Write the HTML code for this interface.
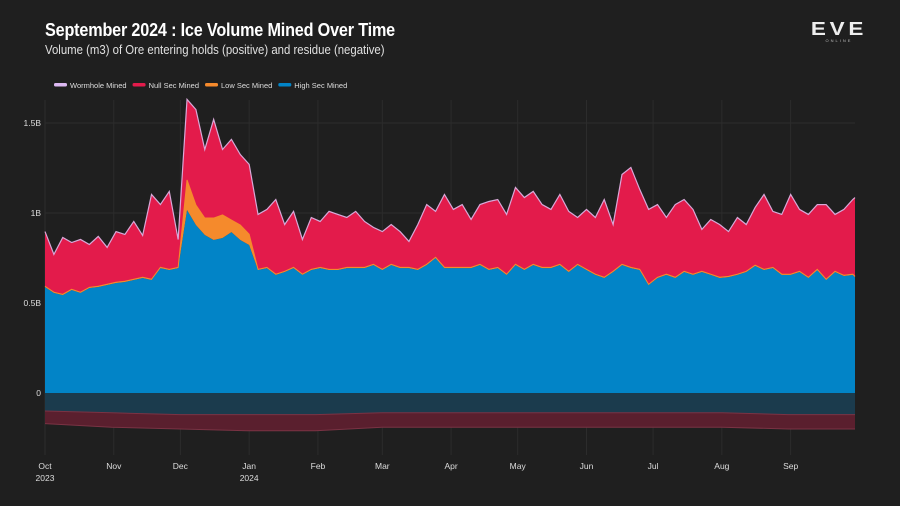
<!DOCTYPE html>
<html><head><meta charset="utf-8"><style>
html,body{margin:0;padding:0;background:#1f1f1f;}
body{width:900px;height:506px;overflow:hidden;position:relative;font-family:"Liberation Sans",sans-serif;color:#fff;}
#title{position:absolute;left:45px;top:20px;font-size:18px;font-weight:bold;letter-spacing:-0.2px;transform:scaleX(0.9);transform-origin:left top;white-space:nowrap;}
#subtitle{position:absolute;left:45px;top:43px;font-size:12.5px;color:#e0e0e0;transform:scaleX(0.91);transform-origin:left top;white-space:nowrap;}
#logo{position:absolute;left:809px;top:20px;width:60px;text-align:center;}
</style></head><body>
<div id="title">September 2024 : Ice Volume Mined Over Time</div>
<div id="subtitle">Volume (m3) of Ore entering holds (positive) and residue (negative)</div>
<div id="logo"><div style="font-size:18px;font-weight:bold;letter-spacing:3px;line-height:18px;color:#eee;transform:scaleX(1.25)">EVE</div><div style="font-size:4px;letter-spacing:2px;color:#bbb">ONLINE</div></div>
<svg id="chart" width="900" height="506" style="position:absolute;left:0;top:0"></svg>
<script>
const days=[0,4,8,12,16,20,24,28,32,36,40,44,48,52,56,60,64,68,72,76,80,84,88,92,96,100,104,108,112,116,120,124,128,132,136,140,144,148,152,156,160,164,168,172,176,180,184,188,192,196,200,204,208,212,216,220,224,228,232,236,240,244,248,252,256,260,264,268,272,276,280,284,288,292,296,300,304,308,312,316,320,324,328,332,336,340,344,348,352,356,360,364,365];
const totalTop=[0.894,0.767,0.861,0.833,0.85,0.822,0.867,0.806,0.894,0.878,0.95,0.872,1.10,1.044,1.117,0.85,1.628,1.572,1.35,1.517,1.35,1.406,1.322,1.267,0.989,1.017,1.072,0.933,1.006,0.85,0.972,0.95,1.006,0.989,0.972,1.006,0.95,0.917,0.894,0.933,0.894,0.839,0.933,1.044,1.006,1.10,1.017,1.044,0.961,1.044,1.061,1.072,0.989,1.139,1.083,1.117,1.044,1.017,1.10,1.006,0.972,1.017,0.972,1.072,0.933,1.211,1.25,1.128,1.017,1.044,0.972,1.044,1.072,1.017,0.906,0.961,0.933,0.894,0.972,0.933,1.028,1.10,1.006,0.989,1.10,1.017,0.989,1.044,1.044,0.989,1.017,1.072,1.083];
const highSec=[0.589,0.556,0.544,0.572,0.556,0.583,0.589,0.60,0.611,0.617,0.628,0.639,0.628,0.694,0.683,0.694,1.017,0.933,0.878,0.85,0.861,0.894,0.85,0.822,0.683,0.694,0.656,0.672,0.694,0.656,0.683,0.694,0.683,0.683,0.694,0.694,0.694,0.711,0.683,0.711,0.694,0.694,0.683,0.711,0.75,0.694,0.694,0.694,0.694,0.711,0.683,0.694,0.656,0.711,0.683,0.711,0.694,0.694,0.711,0.672,0.711,0.683,0.656,0.639,0.672,0.711,0.694,0.683,0.60,0.639,0.656,0.639,0.672,0.656,0.672,0.656,0.639,0.644,0.656,0.672,0.706,0.683,0.694,0.656,0.656,0.672,0.639,0.683,0.628,0.672,0.65,0.656,0.644];
const lowSecIdx=[16,17,18,19,20,21,22,23];
const lowSecVal=[0.167,0.111,0.094,0.122,0.128,0.067,0.083,0.06];
const negDays=[0,30,61,91,122,152,183,213,244,274,305,335,365];
const negHigh=[-0.10,-0.11,-0.12,-0.12,-0.12,-0.11,-0.11,-0.11,-0.11,-0.11,-0.11,-0.12,-0.12];
const negNull=[-0.07,-0.08,-0.08,-0.09,-0.09,-0.08,-0.08,-0.08,-0.08,-0.08,-0.08,-0.08,-0.08];
const yTicks=[0,0.5,1,1.5];
const yTickLabels=["0","0.5B","1B","1.5B"];
const monthDays=[0,31,61,92,123,152,183,213,244,274,305,336];
const monthLabels=["Oct","Nov","Dec","Jan","Feb","Mar","Apr","May","Jun","Jul","Aug","Sep"];
const yearLabels={0:"2023",3:"2024"};
const legendNames=["Wormhole Mined","Null Sec Mined","Low Sec Mined","High Sec Mined"];
const legendColors=["#dcb8f2","#e31b4b","#f58a2c","#0284c7"];

const NS="http://www.w3.org/2000/svg";
const svg=document.getElementById('chart');
const X=d=>45+d*(810/365);
const Y=v=>393-v*180;
function mk(t,a){const e=document.createElementNS(NS,t);for(const k in a)e.setAttribute(k,a[k]);svg.appendChild(e);return e;}
monthDays.forEach((d,i)=>{const l=mk('line',{x1:X(d),x2:X(d),y1:100,y2:455,stroke:'#2c2c2c','stroke-width':1});


const t=mk('text',{x:X(d),y:469,'text-anchor':'middle','font-size':8.5,fill:'#ddd'});t.textContent=monthLabels[i];


if(yearLabels[i]){const t2=mk('text',{x:X(d),y:481,'text-anchor':'middle','font-size':8.5,fill:'#ddd'});t2.textContent=yearLabels[i];

}
});
yTicks.forEach((v,i)=>{const l=mk('line',{x1:45,x2:855,y1:Y(v),y2:Y(v),stroke:'#2c2c2c','stroke-width':1});


const t=mk('text',{x:41,y:Y(v)+3,'text-anchor':'end','font-size':8.5,fill:'#ddd'});t.textContent=yTickLabels[i];

});
const low=days.map((d,i)=>{const k=lowSecIdx.indexOf(i);return k>=0?lowSecVal[k]:0.004;});
const l1=highSec, l2=highSec.map((v,i)=>v+low[i]), l3=totalTop.map((v,i)=>Math.max(v,l2[i])), l4=l3.map(v=>v+0.003);
function area(lower,upper,xs,fill,name){
 let p=xs.map((d,i)=>X(d)+','+Y(upper[i])).join(' ');
 p+=' '+xs.map((d,i)=>X(d)+','+Y(lower[i])).reverse().join(' ');
 const e=mk('polygon',{points:p,fill:fill});
 
 
 return e;}
function line(vals,xs,col,w,name){const e=mk('polyline',{points:xs.map((d,i)=>X(d)+','+Y(vals[i])).join(' '),fill:'none',stroke:col,'stroke-width':w});
 
 }
const zeros=days.map(()=>0);
area(zeros,l1,days,'#0284c7','high-sec-area');
area(l1,l2,days,'#f58a2c','low-sec-area');
area(l2,l3,days,'#e31b4b','null-sec-area');
area(l3,l4,days,'#dcb8f2','wormhole-area');
line(l2,days,'#f58a2c',1,'low-sec-line');
line(l4,days,'#d9a8d8',1.2,'wormhole-line');
const nz=negDays.map(()=>0), n2=negHigh.map((v,i)=>v+negNull[i]);
area(nz,negHigh,negDays,'#1b3b4d','high-sec-residue-area');
area(negHigh,n2,negDays,'#5a1f2e','null-sec-residue-area');
line(negHigh,negDays,'#7a3344',1,'high-sec-residue-line');
line(n2,negDays,'#7a3344',1,'null-sec-residue-line');
let lx=54;
legendNames.forEach((n,i)=>{
 const r=mk('rect',{x:lx,y:83,width:13,height:3.5,rx:1.5,fill:legendColors[i]});
 
 
 const t=mk('text',{x:lx+16,y:88,'font-size':7.5,fill:'#ddd'});t.textContent=n;
 
 
 lx+=16+t.getComputedTextLength()+6;
});
</script>
</body></html>
